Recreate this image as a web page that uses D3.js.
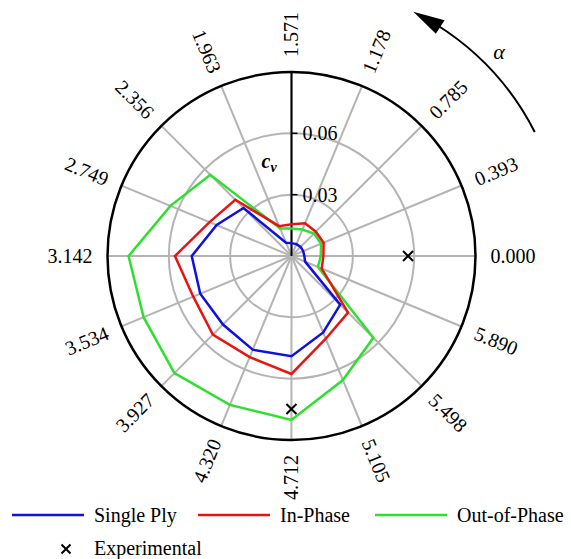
<!DOCTYPE html>
<html>
<head>
<meta charset="utf-8">
<script src="https://cdn.jsdelivr.net/npm/d3@7"></script>
<style>
  body { margin: 0; background: #fff; }
  text { font-family: "Liberation Serif", "Times New Roman", serif; }
</style>
</head>
<body>
<div id="chart-area"></div>
<script>
// angle positions (rad) shown around the circle
const angleLabels = ["0.000", "0.393", "0.785", "1.178", "1.571", "1.963", "2.356", "2.749",
                     "3.142", "3.534", "3.927", "4.320", "4.712", "5.105", "5.498", "5.890"];
const radialTicks = [0.03, 0.06];

// c_v values read at each angle
const singlePly = [0.0063, 0.0062, 0.0063, 0.0063, 0.0063, 0.0070, 0.0332, 0.0396,
                   0.0488, 0.0483, 0.0474, 0.0496, 0.0490, 0.0405, 0.0337, 0.0072];
const inPhase = [0.0156, 0.0170, 0.0168, 0.0173, 0.0155, 0.0158, 0.0389, 0.0434,
                 0.0570, 0.0520, 0.0544, 0.0535, 0.0577, 0.0438, 0.0391, 0.0160];
const outOfPhase = [0.0143, 0.0157, 0.0155, 0.0140, 0.0135, 0.0145, 0.0562, 0.0641,
                    0.0797, 0.0783, 0.0810, 0.0788, 0.0802, 0.0657, 0.0566, 0.0140];

// experimental points [angle, c_v]
const experimental = [[0.000, 0.0570], [4.712, 0.0748]];

const width = 571, height = 559;
const cx = 291.5, cy = 256, R = 184;

var svg = d3.select("#chart-area")
    .append("svg")
    .attr("width", width)
    .attr("height", height);

const g = svg.append("g")
    .attr("transform", "translate(" + cx + "," + cy + ")");

const r = d3.scaleLinear().domain([0, 0.09]).range([0, R]);

// theta is math angle (ccw from east); d3 radial uses clockwise from north
function pt(theta, v) {
    return [r(v) * Math.cos(theta), -r(v) * Math.sin(theta)];
}

function cross(sel, x, y, s) {
    sel.append("path")
        .attr("d", "M" + (x - s) + "," + (y - s) + "L" + (x + s) + "," + (y + s) +
                   "M" + (x - s) + "," + (y + s) + "L" + (x + s) + "," + (y - s))
        .attr("stroke", "#000")
        .attr("stroke-width", 2);
}

// grid circles
g.selectAll(".grid-circle")
    .data(radialTicks)
    .enter()
    .append("circle")
        .attr("r", d => r(d))
        .attr("fill", "none")
        .attr("stroke", "#b4b4b4")
        .attr("stroke-width", 2);

// spokes
g.selectAll(".spoke")
    .data(angleLabels)
    .enter()
    .append("line")
        .attr("x1", 0).attr("y1", 0)
        .attr("x2", d => pt(+d, 0.09)[0])
        .attr("y2", d => pt(+d, 0.09)[1])
        .attr("stroke", "#b4b4b4")
        .attr("stroke-width", 2);

// outer circle
g.append("circle")
    .attr("r", R)
    .attr("fill", "none")
    .attr("stroke", "#000")
    .attr("stroke-width", 2.5);

// radial axis (vertical)
g.append("line")
    .attr("x1", 0).attr("y1", 0)
    .attr("x2", 0).attr("y2", -R)
    .attr("stroke", "#000")
    .attr("stroke-width", 2);

g.selectAll(".rtick")
    .data(radialTicks)
    .enter()
    .append("line")
        .attr("x1", 0).attr("x2", 6)
        .attr("y1", d => -r(d)).attr("y2", d => -r(d))
        .attr("stroke", "#000")
        .attr("stroke-width", 1.5);

g.selectAll(".rlabel")
    .data(radialTicks)
    .enter()
    .append("text")
        .attr("x", 11)
        .attr("y", d => -r(d))
        .attr("dy", "0.35em")
        .attr("font-size", "20px")
        .text(d => d.toFixed(2));

// c_v label
const cv = g.append("text")
    .attr("x", -30)
    .attr("y", -88)
    .attr("font-size", "20px")
    .attr("font-weight", "bold")
    .attr("font-style", "italic");
cv.append("tspan").text("c");
cv.append("tspan").attr("font-size", "14px").attr("dy", "4").text("v");

// angle labels
g.selectAll(".alabel")
    .data(angleLabels)
    .enter()
    .append("text")
        .attr("font-size", "20px")
        .attr("dy", "0.35em")
        .attr("text-anchor", d => {
            const deg = +d * 180 / Math.PI;
            return (deg > 91 && deg < 271) ? "end" : "start";
        })
        .attr("transform", d => {
            const deg = +d * 180 / Math.PI;
            let rot;
            if (deg <= 91) rot = -deg;
            else if (deg < 271) rot = 180 - deg;
            else rot = 360 - deg;
            const p = [(R + 15) * Math.cos(+d), -(R + 15) * Math.sin(+d)];
            return "translate(" + p[0] + "," + p[1] + ") rotate(" + Math.round(rot * 10) / 10 + ")";
        })
        .text(d => d);

// data polygons
const series = [
    { name: "Single Ply", values: singlePly, color: "#1010e0" },
    { name: "In-Phase", values: inPhase, color: "#e81414" },
    { name: "Out-of-Phase", values: outOfPhase, color: "#2ee02e" }
];

const line = d3.lineRadial()
    .angle((d, i) => Math.PI / 2 - (+angleLabels[i]))
    .radius(d => r(d))
    .curve(d3.curveLinearClosed);

g.selectAll(".series")
    .data(series.slice().reverse())
    .enter()
    .append("path")
        .attr("d", d => line(d.values))
        .attr("fill", "none")
        .attr("stroke", d => d.color)
        .attr("stroke-width", 2.5)
        .attr("stroke-linejoin", "miter");

// experimental markers
experimental.forEach(function(e) {
    const p = pt(e[0], e[1]);
    cross(g, p[0], p[1], 5);
});

// alpha direction arrow
const ra = 273;
const arc = d3.arc()
    .innerRadius(ra).outerRadius(ra)
    .startAngle(Math.PI / 2 - 27 * Math.PI / 180)
    .endAngle(Math.PI / 2 - 58 * Math.PI / 180);
g.append("path")
    .attr("d", arc())
    .attr("fill", "none")
    .attr("stroke", "#000")
    .attr("stroke-width", 2);

const tipA = 63.5 * Math.PI / 180, baseA = 57 * Math.PI / 180;
const tip = [ra * Math.cos(tipA), -ra * Math.sin(tipA)];
const b1 = [(ra + 8) * Math.cos(baseA), -(ra + 8) * Math.sin(baseA)];
const b2 = [(ra - 8) * Math.cos(baseA), -(ra - 8) * Math.sin(baseA)];
g.append("path")
    .attr("d", "M" + tip + "L" + b1 + "L" + b2 + "Z")
    .attr("fill", "#000");

svg.append("text")
    .attr("x", 499)
    .attr("y", 59)
    .attr("text-anchor", "middle")
    .attr("font-size", "22px")
    .attr("font-style", "italic")
    .text("α");

// legend
const legend = svg.append("g");
const legendX = [12, 198, 375];
series.forEach(function(s, i) {
    legend.append("line")
        .attr("x1", legendX[i]).attr("x2", legendX[i] + 72)
        .attr("y1", 515).attr("y2", 515)
        .attr("stroke", s.color)
        .attr("stroke-width", 2.5);
    legend.append("text")
        .attr("x", legendX[i] + 82)
        .attr("y", 522)
        .attr("font-size", "20px")
        .text(s.name);
});
cross(legend, 66, 549, 4.5);
legend.append("text")
    .attr("x", 94)
    .attr("y", 555)
    .attr("font-size", "20px")
    .text("Experimental");
</script>
</body>
</html>
